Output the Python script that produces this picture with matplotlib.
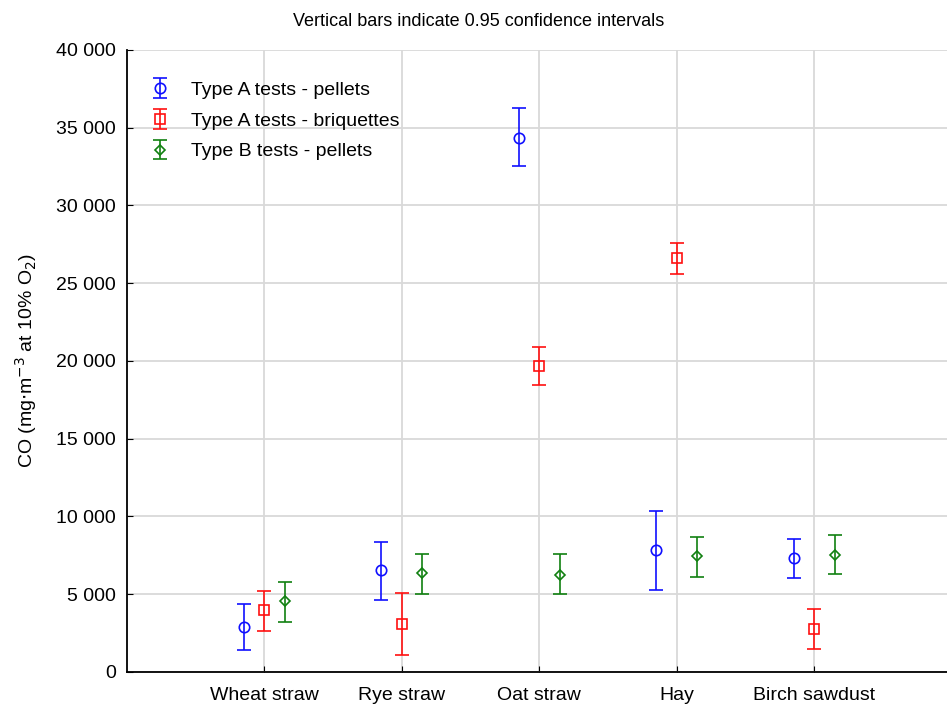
import matplotlib
matplotlib.use("Agg")
import matplotlib.pyplot as plt
import numpy as np
from matplotlib.ticker import FuncFormatter

plt.rcParams['font.family'] = ['Liberation Sans', 'DejaVu Sans']

categories = ["Wheat straw", "Rye straw", "Oat straw", "Hay", "Birch sawdust"]
series_names = ["Type A tests - pellets", "Type A tests - briquettes", "Type B tests - pellets"]

a_pel_mean = [2890, 6540, 34360, 7830, 7330]
a_pel_low = [1420, 4650, 32520, 5250, 6030]
a_pel_high = [4370, 8360, 36270, 10350, 8530]

a_bri_mean = [3990, 3090, 19660, 26600, 2770]
a_bri_low = [2640, 1110, 18460, 25580, 1480]
a_bri_high = [5210, 5100, 20920, 27590, 4050]

b_pel_mean = [4570, 6350, 6260, 7440, 7540]
b_pel_low = [3220, 5000, 5040, 6130, 6300]
b_pel_high = [5790, 7590, 7570, 8700, 8830]

colors = ["#1010ff", "#ff1010", "#108010"]
markers = ["o", "s", "D"]
msizes = [7.5, 7, 5.5]
offsets = [-0.15, 0.0, 0.15]

fig = plt.figure(figsize=(9.47, 7.04), dpi=100)
ax = fig.add_axes([0.134, 0.0455, 0.871, 0.8835])

x = np.arange(1, len(categories) + 1)
data = [(a_pel_mean, a_pel_low, a_pel_high),
        (a_bri_mean, a_bri_low, a_bri_high),
        (b_pel_mean, b_pel_low, b_pel_high)]
for (m, lo, hi), c, mk, ms, off, name in zip(data, colors, markers, msizes, offsets, series_names):
    m = np.array(m); lo = np.array(lo); hi = np.array(hi)
    ax.errorbar(x + off, m, yerr=[m - lo, hi - m], fmt=mk, color=c, mfc='none', mec=c,
                ms=ms, mew=1.2, elinewidth=1.2, capsize=5, capthick=1.2, label=name, zorder=3)

ax.set_xlim(0, 6)
ax.set_ylim(0, 40000)
ax.set_xticks(x)
ax.set_xticklabels(categories, fontsize=14)
ax.set_yticks(np.arange(0, 40001, 5000))
ax.yaxis.set_major_formatter(FuncFormatter(lambda v, p: f"{int(v):,}".replace(",", " ")))
ax.tick_params(axis='y', labelsize=14, direction='in', length=4, pad=8)
ax.tick_params(axis='x', direction='in', length=4, pad=11)
ax.grid(True, color='#d9d9d9', lw=1.3, zorder=0)
ax.set_axisbelow(True)
for s in ['top', 'right']:
    ax.spines[s].set_visible(False)
for s in ['left', 'bottom']:
    ax.spines[s].set_linewidth(1.3)

ax.set_ylabel(r"CO (mg$\cdot$m$^{-3}$ at 10% O$_2$)", fontsize=14, labelpad=12)
fig.text(0.505, 0.97, "Vertical bars indicate 0.95 confidence intervals", ha='center', va='center', fontsize=13)

leg = ax.legend(loc='upper left', bbox_to_anchor=(0.0, 0.978), frameon=False, fontsize=14,
                handlelength=1.6, handletextpad=0.8, labelspacing=0.68)

fig.savefig("out.png", dpi=100)
